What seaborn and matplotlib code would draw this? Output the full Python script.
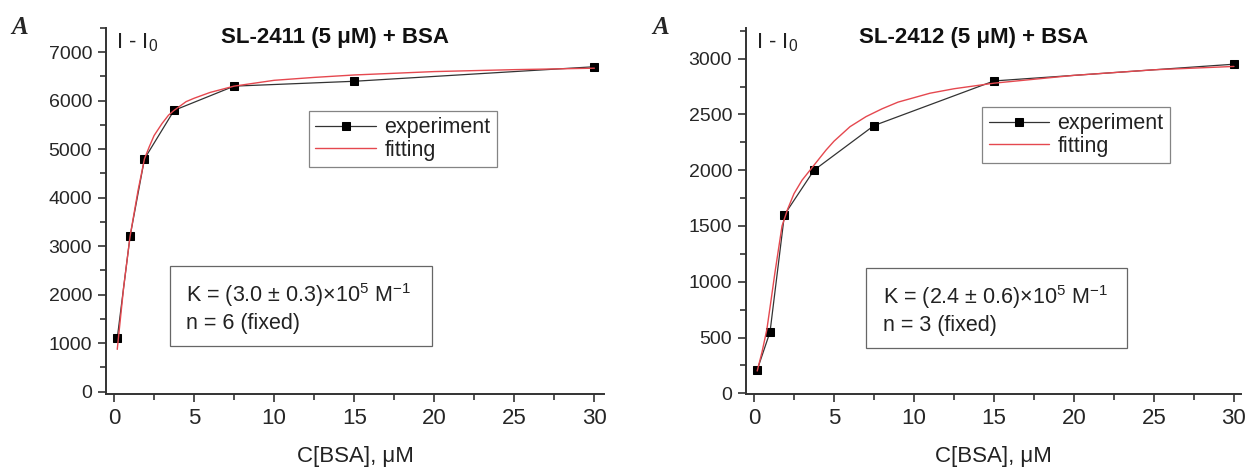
import pandas as pd
import numpy as np
import matplotlib.pyplot as plt
import seaborn as sns
from matplotlib.ticker import MultipleLocator
from matplotlib.patches import Rectangle

sns.set_style('ticks')
plt.rcParams['font.family'] = ['Liberation Sans', 'DejaVu Sans']
plt.rcParams['mathtext.fontset'] = 'custom'
plt.rcParams['mathtext.rm'] = 'Liberation Sans'
plt.rcParams['mathtext.it'] = 'Liberation Sans'

# experiment data
conc_exp = [0.2, 1, 1.9, 3.75, 7.5, 15, 30]
sl2411_exp = [1100, 3200, 4800, 5800, 6300, 6400, 6700]
sl2412_exp = [210, 550, 1600, 2000, 2400, 2800, 2950]

# fitting curves
conc_fit_a = [0.2, 0.6, 1, 1.5, 1.9, 2.2, 2.5, 3, 3.4, 3.75, 4.5, 5, 6, 7.5, 10, 12.5, 15, 20, 25, 30]
sl2411_fit = [870, 2150, 3200, 4150, 4800, 5050, 5280, 5530, 5700, 5800, 5980, 6050, 6170,
              6300, 6420, 6480, 6530, 6600, 6640, 6670]
conc_fit_b = [0.2, 0.5, 0.8, 1.05, 1.3, 1.75, 2.1, 2.5, 3, 3.5, 4, 4.5, 5, 6, 7, 8, 9, 10,
              11, 12.5, 15, 20, 25, 30]
sl2412_fit = [200, 370, 570, 820, 1075, 1500, 1650, 1790, 1910, 2000, 2090, 2180, 2260, 2390,
              2480, 2550, 2610, 2650, 2690, 2730, 2780, 2850, 2900, 2930]

titles = ['SL-2411 (5 \u03bcM) + BSA', 'SL-2412 (5 \u03bcM) + BSA']
notes = ['K = (3.0 \u00b1 0.3)\u00d710$^{5}$ M$^{-1}$\nn = 6 (fixed)',
         'K = (2.4 \u00b1 0.6)\u00d710$^{5}$ M$^{-1}$\nn = 3 (fixed)']

fig = plt.figure(figsize=(12.49, 4.69), dpi=100)
ax1 = fig.add_axes([0.0849, 0.160, 0.3987, 0.7804])
ax2 = fig.add_axes([0.5973, 0.160, 0.3963, 0.7804])

panels = [
    # ax, exp, fit x, fit y, ylim, xmax, major, minor, legend anchor, note box, note text xy
    (ax1, sl2411_exp, conc_fit_a, sl2411_fit, (-50, 7500), 30.6, 1000, 500,
     (0.4076, 0.773), (0.1285, 0.131, 0.5261, 0.219), (0.1606, 0.236)),
    (ax2, sl2412_exp, conc_fit_b, sl2412_fit, (-6, 3275), 30.44, 500, 250,
     (0.477, 0.784), (0.2424, 0.126, 0.5273, 0.218), (0.276, 0.231)),
]

for i, (ax, y_exp, x_fit, y_fit, ylim, xmax, ymaj, ymin, leg_pos, box, txt) in enumerate(panels):
    sns.lineplot(ax=ax, x=conc_exp, y=y_exp, color='#333333', linewidth=0.9,
                 marker='s', markersize=6, markerfacecolor='black',
                 markeredgecolor='black', label='experiment')
    sns.lineplot(ax=ax, x=x_fit, y=y_fit, color='#e5484f', linewidth=1.0, label='fitting')

    ax.set_xlim(-0.5, xmax)
    ax.set_ylim(*ylim)
    ax.xaxis.set_major_locator(MultipleLocator(5))
    ax.xaxis.set_minor_locator(MultipleLocator(2.5))
    ax.yaxis.set_major_locator(MultipleLocator(ymaj))
    ax.yaxis.set_minor_locator(MultipleLocator(ymin))
    ax.tick_params(axis='x', which='major', labelsize=16, length=6, width=1.2,
                   color='#333333', pad=4)
    ax.tick_params(axis='y', which='major', labelsize=14, length=6, width=1.2,
                   color='#333333', pad=4)
    ax.tick_params(which='minor', length=4, width=1.2, color='#333333')
    for s in ['left', 'bottom']:
        ax.spines[s].set_color('#333333')
        ax.spines[s].set_linewidth(1.4)
    sns.despine(ax=ax)

    ax.set_xlabel('C[BSA], \u03bcM', fontsize=16, labelpad=12, color='#222222')
    ax.set_ylabel('')
    ax.text(0.02, 0.99, 'I - I$_{0}$', transform=ax.transAxes, fontsize=16,
            va='top', ha='left', color='#222222')
    ax.text(0.459, 0.973, titles[i], transform=ax.transAxes, fontsize=16,
            fontweight='bold', va='center', ha='center', color='#111111')

    leg = ax.legend(loc='upper left', bbox_to_anchor=leg_pos, fontsize=15.5,
                    frameon=True, fancybox=False, handlelength=2.8,
                    borderpad=0.3, labelspacing=0.05, handletextpad=0.4,
                    borderaxespad=0)
    leg.get_frame().set_edgecolor('#666666')
    leg.get_frame().set_linewidth(0.9)
    for t in leg.get_texts():
        t.set_color('#222222')

    ax.add_patch(Rectangle((box[0], box[1]), box[2], box[3], transform=ax.transAxes,
                           facecolor='white', edgecolor='#666666', linewidth=0.9, zorder=5))
    ax.text(txt[0], txt[1], notes[i], transform=ax.transAxes, fontsize=15.5,
            va='center', ha='left', linespacing=1.25, color='#222222', zorder=6)

fig.text(0.009, 0.928, 'A', fontsize=18, fontweight='bold', fontstyle='italic',
         family='Liberation Serif')
fig.text(0.522, 0.928, 'A', fontsize=18, fontweight='bold', fontstyle='italic',
         family='Liberation Serif')

fig.savefig('out.png', dpi=100)
